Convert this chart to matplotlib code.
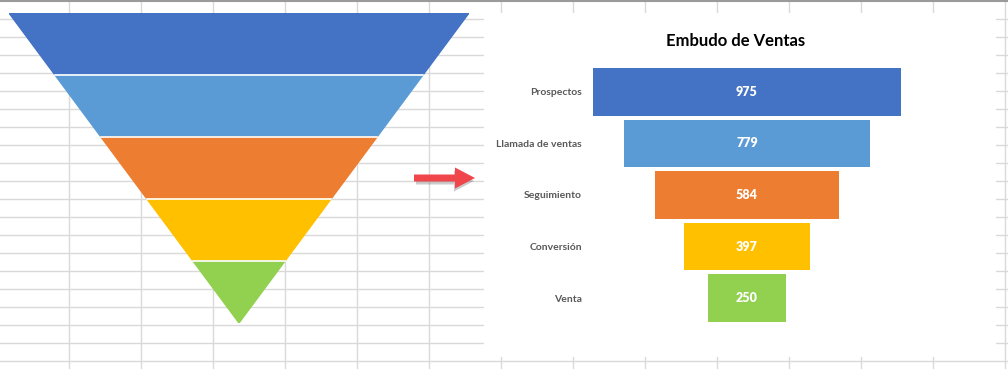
import matplotlib.pyplot as plt
import numpy as np
from matplotlib.patches import Rectangle, FancyArrow

# Datos del embudo de ventas
etapas = ["Prospectos", "Llamada de ventas", "Seguimiento", "Conversión", "Venta"]
valores = np.array([975, 779, 584, 397, 250])
colores = ["#4472C4", "#5B9BD5", "#ED7D31", "#FFC000", "#92D050"]

W, H = 1008, 369
plt.rcParams["font.family"] = ["Lato", "DejaVu Sans"]

fig = plt.figure(figsize=(W / 100, H / 100), dpi=100)

# Fondo tipo hoja de cálculo (coordenadas en píxeles)
bg = fig.add_axes([0, 0, 1, 1])
bg.set_xlim(0, W)
bg.set_ylim(H, 0)
bg.axis("off")
grid_color = "#d9d9d9"
for y in np.arange(18.5, H, 18):
    bg.plot([0, W], [y, y], color=grid_color, lw=1, zorder=1)
for x in np.arange(68.5, W, 72):
    bg.plot([x, x], [0, H], color=grid_color, lw=1, zorder=1)
bg.plot([0, W], [0.5, 0.5], color="#9a9a9a", lw=1.5, zorder=1)
# área del gráfico
bg.add_patch(Rectangle((484, 13), 512, 344, facecolor="white", edgecolor="none", zorder=3))

# Flecha
bg.add_patch(FancyArrow(416, 181, 58, 0, width=7, head_width=21, head_length=20,
                        length_includes_head=True, color="#555555", alpha=0.3, lw=0, zorder=4))
bg.add_patch(FancyArrow(414, 178, 61, 0, width=7, head_width=21, head_length=20,
                        length_includes_head=True, color="#F0454A", lw=0, zorder=5))

# Embudo triangular (izquierda)
ax_tri = fig.add_axes([9 / W, 1 - 323 / H, 460 / W, 310 / H])
ax_tri.set_xlim(-1, 1)
ax_tri.set_ylim(len(etapas), 0)
ax_tri.axis("off")
n = len(etapas)
for i, c in enumerate(colores):
    hw0 = (n - i) / n
    hw1 = (n - i - 1) / n
    ax_tri.fill([-hw0, hw0, hw1, -hw1], [i, i, i + 1, i + 1], color=c)
    if i > 0:
        ax_tri.plot([-hw0, hw0], [i, i], color="white", lw=1.2)

# Gráfico de embudo con barras (derecha)
ax = fig.add_axes([593 / W, 1 - 322 / H, 308 / W, 254 / H])
pos = np.arange(n)
ax.barh(pos, valores, left=-valores / 2, height=0.93, color=colores)
ax.set_xlim(-valores.max() / 2, valores.max() / 2)
ax.set_ylim(n - 0.535, -0.465)
ax.set_yticks(pos)
ax.set_yticklabels(etapas, fontsize=7.5, fontweight="bold", color="#595959")
ax.tick_params(axis="y", length=0, pad=8)
ax.set_xticks([])
for s in ax.spines.values():
    s.set_visible(False)
ax.patch.set_alpha(0)
for i, v in enumerate(valores):
    ax.text(0, i, str(v), ha="center", va="center", color="white",
            fontsize=9, fontweight="heavy")

fig.text(736 / W, 1 - 41 / H, "Embudo de Ventas", ha="center", va="center",
         fontsize=12, fontweight="bold", color="black")

fig.savefig("out.png", dpi=100)
